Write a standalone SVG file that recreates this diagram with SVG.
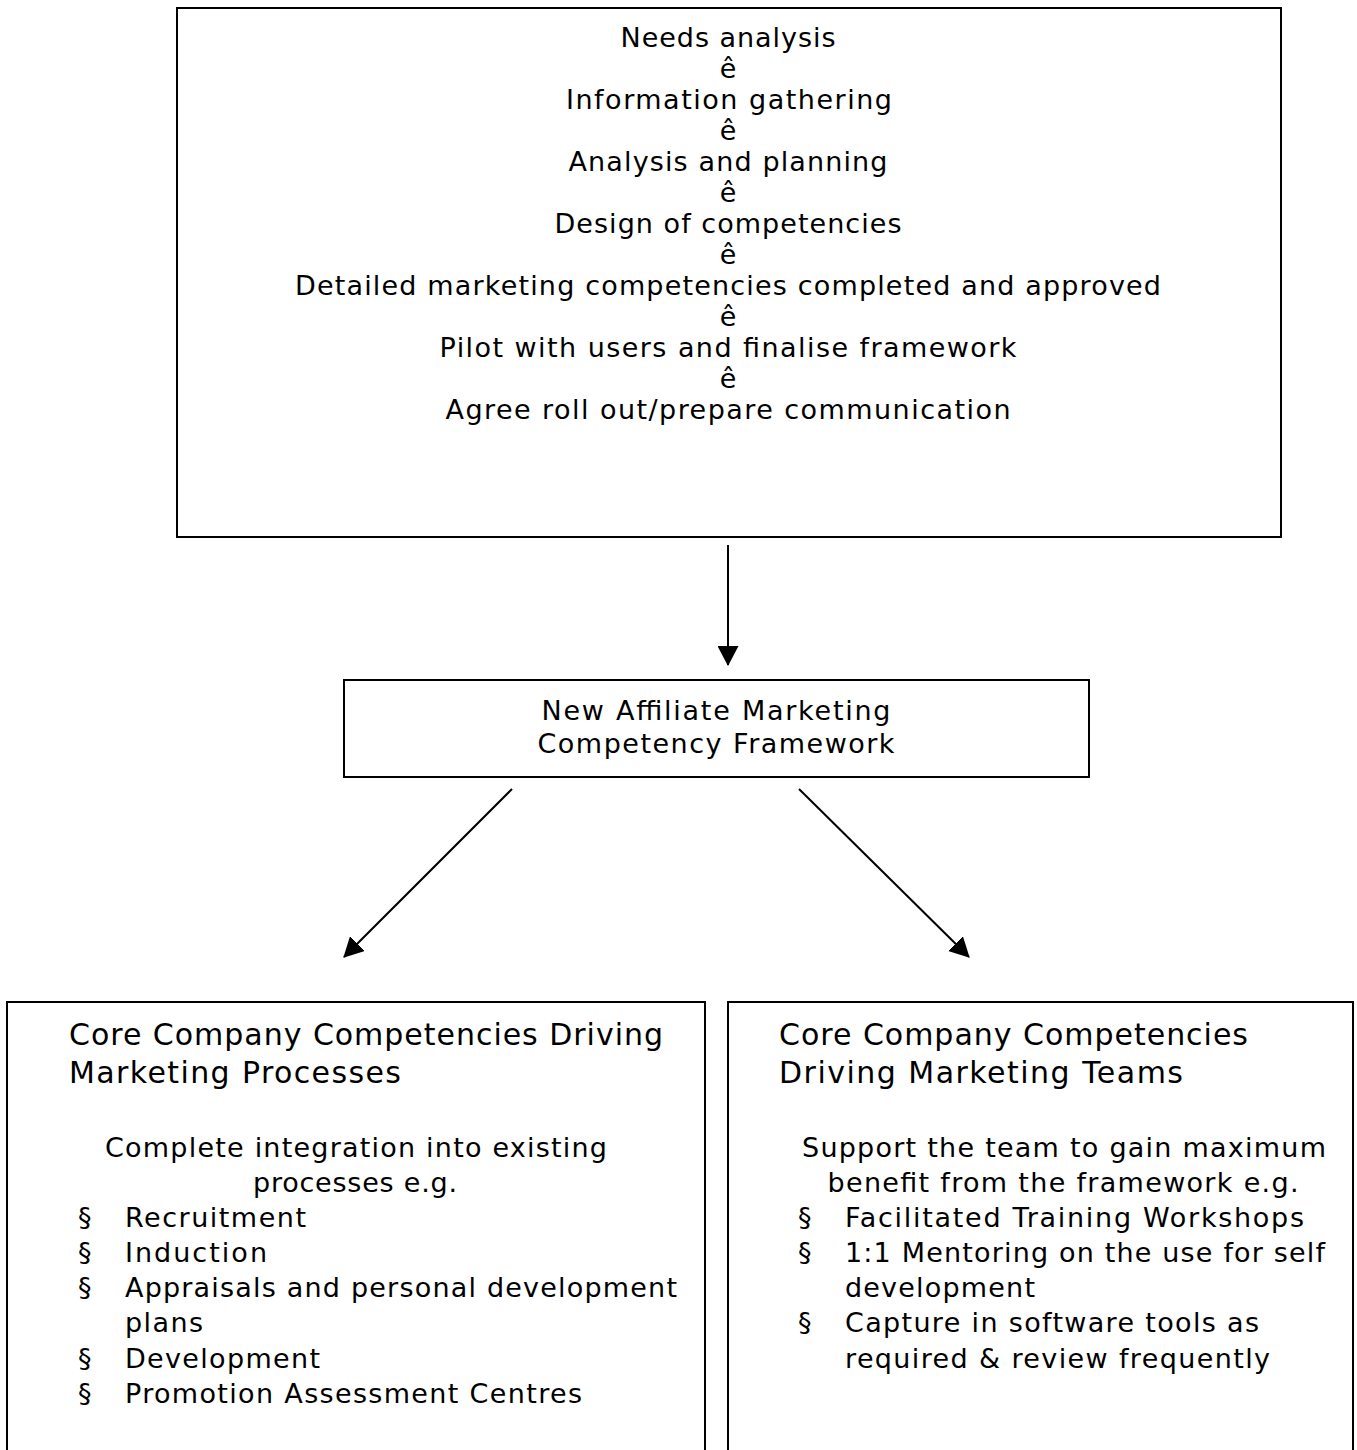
<svg xmlns="http://www.w3.org/2000/svg" width="1357" height="1450" viewBox="0 0 1357 1450">
<style>
.box{fill:#fff;stroke:#000;stroke-width:2}
.t{font-family:"DejaVu Sans","Verdana",sans-serif;font-size:27px;fill:#000}
.tc{text-anchor:middle}
.h{font-size:30px}
.con{stroke:#000;stroke-width:2;fill:none;marker-end:url(#ah)}
</style>
<defs>
<marker id="ah" viewBox="0 0 20 21" refX="19" refY="10.5" markerWidth="20" markerHeight="21" markerUnits="userSpaceOnUse" orient="auto">
<path d="M0,0 L20,10.5 L0,21 z" fill="#000"/>
</marker>
</defs>
<rect width="1357" height="1450" fill="#fff"/>
<g id="process">
<rect class="box" x="177" y="8" width="1104" height="529"/>
<text class="t tc" x="728" y="47" textLength="215">Needs analysis</text>
<text class="t tc" x="728" y="78">ê</text>
<text class="t tc" x="729" y="109" textLength="326">Information gathering</text>
<text class="t tc" x="728" y="140">ê</text>
<text class="t tc" x="728" y="171" textLength="319">Analysis and planning</text>
<text class="t tc" x="728" y="202">ê</text>
<text class="t tc" x="728" y="233" textLength="347">Design of competencies</text>
<text class="t tc" x="728" y="264">ê</text>
<text class="t tc" x="728" y="295" textLength="866">Detailed marketing competencies completed and approved</text>
<text class="t tc" x="728" y="326">ê</text>
<text class="t tc" x="728" y="357" textLength="577">Pilot with users and finalise framework</text>
<text class="t tc" x="728" y="388">ê</text>
<text class="t tc" x="728" y="419" textLength="565">Agree roll out/prepare communication</text>
</g>
<g id="framework">
<rect class="box" x="344" y="680" width="745" height="97"/>
<text class="t tc" x="716" y="720" textLength="349">New Affiliate Marketing</text>
<text class="t tc" x="716" y="753" textLength="357">Competency Framework</text>
</g>
<g id="processes">
<rect class="box" x="7" y="1002" width="698" height="470"/>
<text class="t h" x="69" y="1045" textLength="594">Core Company Competencies Driving</text>
<text class="t h" x="69" y="1083" textLength="332">Marketing Processes</text>
<text class="t tc" x="356" y="1157" textLength="502">Complete integration into existing</text>
<text class="t tc" x="355" y="1192" textLength="204">processes e.g.</text>
<text class="t" x="78" y="1227">§</text>
<text class="t" x="125" y="1227" textLength="181">Recruitment</text>
<text class="t" x="78" y="1262">§</text>
<text class="t" x="125" y="1262" textLength="142">Induction</text>
<text class="t" x="78" y="1297">§</text>
<text class="t" x="125" y="1297" textLength="552">Appraisals and personal development</text>
<text class="t" x="125" y="1332" textLength="78">plans</text>
<text class="t" x="78" y="1368">§</text>
<text class="t" x="125" y="1368" textLength="195">Development</text>
<text class="t" x="78" y="1403">§</text>
<text class="t" x="125" y="1403" textLength="457">Promotion Assessment Centres</text>
</g>
<g id="teams">
<rect class="box" x="728" y="1002" width="625" height="470"/>
<text class="t h" x="779" y="1045" textLength="469">Core Company Competencies</text>
<text class="t h" x="779" y="1083" textLength="404">Driving Marketing Teams</text>
<text class="t tc" x="1064" y="1157" textLength="524">Support the team to gain maximum</text>
<text class="t tc" x="1063" y="1192" textLength="471">benefit from the framework e.g.</text>
<text class="t" x="798" y="1227">§</text>
<text class="t" x="845" y="1227" textLength="459">Facilitated Training Workshops</text>
<text class="t" x="798" y="1262">§</text>
<text class="t" x="845" y="1262" textLength="480">1:1 Mentoring on the use for self</text>
<text class="t" x="845" y="1297" textLength="190">development</text>
<text class="t" x="798" y="1332">§</text>
<text class="t" x="845" y="1332" textLength="414">Capture in software tools as</text>
<text class="t" x="845" y="1368" textLength="425">required &amp; review frequently</text>
</g>
<g id="connectors">
<line class="con" x1="728" y1="545" x2="728" y2="665"/>
<line class="con" x1="512" y1="789" x2="344" y2="957"/>
<line class="con" x1="799" y1="789" x2="969" y2="957"/>
</g>
</svg>
